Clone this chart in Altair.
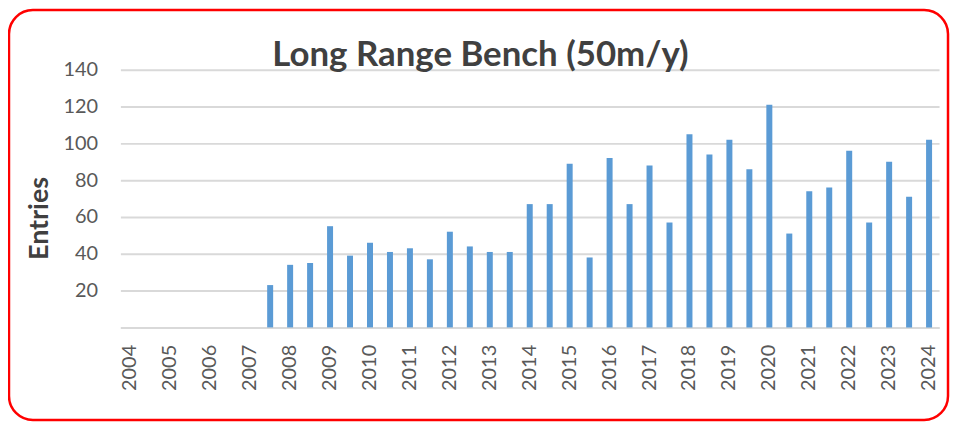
import altair as alt
import pandas as pd

chart_title = "Long Range Bench (50m/y)"
periods = [
    "2004", "2004.5", "2005", "2005.5", "2006", "2006.5", "2007", "2007.5",
    "2008", "2008.5", "2009", "2009.5", "2010", "2010.5", "2011", "2011.5",
    "2012", "2012.5", "2013", "2013.5", "2014", "2014.5", "2015", "2015.5",
    "2016", "2016.5", "2017", "2017.5", "2018", "2018.5", "2019", "2019.5",
    "2020", "2020.5", "2021", "2021.5", "2022", "2022.5", "2023", "2023.5",
    "2024",
]
entries = [
    None, None, None, None, None, None, None, 23,
    34, 35, 55, 39, 46, 41, 43, 37,
    52, 44, 41, 41, 67, 67, 89, 38,
    92, 67, 88, 57, 105, 94, 102, 86,
    121, 51, 74, 76, 96, 57, 90, 71,
    102,
]
y_ticks = [0, 20, 40, 60, 80, 100, 120, 140]

df = pd.DataFrame({"period": periods, "entries": entries})

FONT = "Lato"
GRID = "#d9d9d9"
LABEL = "#595959"

bars = alt.Chart(df).mark_bar(color="#5b9bd5").encode(
    x=alt.X(
        "period:N",
        sort=periods,
        scale=alt.Scale(domain=periods, paddingInner=0.7, paddingOuter=0.35),
        axis=alt.Axis(
            title=None,
            labelExpr="indexof(datum.label, '.') >= 0 ? '' : datum.label",
            labelAngle=270,
            labelAlign="right",
            labelBaseline="middle",
            labelPadding=17,
            labelFont=FONT,
            labelFontSize=20,
            labelColor=LABEL,
            ticks=False,
            domainColor=GRID,
            domainWidth=2,
            grid=False,
        ),
    ),
    y=alt.Y(
        "entries:Q",
        scale=alt.Scale(domain=[0, 140]),
        axis=alt.Axis(
            title="Entries",
            values=y_ticks,
            labelExpr="datum.value == 0 ? '' : datum.label",
            labelFont=FONT,
            labelFontSize=20,
            labelColor=LABEL,
            labelPadding=23,
            ticks=False,
            domain=False,
            gridColor=GRID,
            gridWidth=2,
            titleFont=FONT,
            titleFontSize=27,
            titleFontWeight="bold",
            titleColor="#404040",
            titleAngle=270,
            titleAlign="center",
            titleBaseline="alphabetic",
            titleX=-73,
            titleY=149,
        ),
    ),
)

title = alt.Chart(pd.DataFrame({"t": [chart_title]})).mark_text(
    font=FONT,
    fontSize=35,
    fontWeight="bold",
    color="#404040",
    align="center",
    baseline="alphabetic",
).encode(text="t:N", x=alt.value(362), y=alt.value(-4))

frame = alt.Chart(pd.DataFrame({"d": [0]})).mark_rect(
    fillOpacity=0, stroke="#ff0000", strokeWidth=2.5, cornerRadius=24
).encode(
    x=alt.value(-112), x2=alt.value(832), y=alt.value(-60), y2=alt.value(352)
)

chart = alt.layer(bars, title, frame).properties(
    width=823,
    height=259,
    autosize="none",
    padding={"left": 113, "top": 61, "right": 11, "bottom": 95},
).configure_view(stroke=None)

chart.save("out.html", embed_options={"renderer": "svg", "actions": False})
